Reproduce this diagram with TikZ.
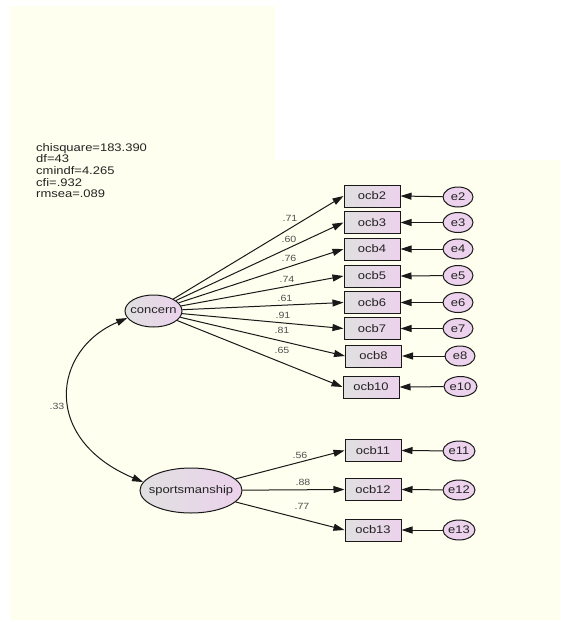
\documentclass[tikz,border=0pt]{standalone}
\usepackage{fontspec}
\setmainfont[FakeStretch=1.18]{Liberation Sans}
\usetikzlibrary{arrows.meta,shapes.geometric}
\definecolor{bgy}{RGB}{255,255,239}
\definecolor{linec}{RGB}{25,25,25}
\definecolor{lgray}{RGB}{224,224,224}
\definecolor{lpink}{RGB}{236,210,236}
\definecolor{labc}{RGB}{80,80,80}
\definecolor{txtc}{RGB}{35,35,35}
\tikzset{
  obs/.style={draw=linec, line width=1pt, rectangle, minimum width=56pt, minimum height=22pt, inner sep=0pt, left color=lgray, right color=lpink, font=\fontsize{11}{12}\selectfont, text=txtc},
  lat/.style={draw=linec, line width=1pt, ellipse, inner sep=0pt, left color=lgray, right color=lpink, font=\fontsize{11}{12}\selectfont, text=txtc},
  err/.style={draw=linec, line width=1pt, ellipse, minimum width=30pt, minimum height=20pt, inner sep=0pt, fill=lpink, font=\fontsize{11}{12}\selectfont, text=txtc},
  pth/.style={draw=linec, line width=1pt, -{Triangle[length=11pt,width=7pt]}},
  cov/.style={draw=linec, line width=1pt, {Triangle[length=11pt,width=7pt]}-{Triangle[length=11pt,width=7pt]}},
  coef/.style={font=\fontsize{9}{10}\selectfont, text=labc, inner sep=0pt},
  stats/.style={font=\fontsize{11}{11.7}\selectfont, text=txtc, align=left, inner sep=0pt, anchor=north west},
}
\begin{document}
\begin{tikzpicture}[x=1pt,y=-1pt]
\useasboundingbox (0,0) rectangle (561,622);
\fill[white] (0,0) rectangle (561,622);
\fill[bgy] (10,6) -- (275,6) -- (275,160) -- (560,160) -- (560,620) -- (10,620) -- cycle;

\node[stats] (fit) at (36,143) {chisquare=183.390\\df=43\\cmindf=4.265\\cfi=.932\\rmsea=.089};

\node[lat, minimum width=57pt, minimum height=32pt] (concern) at (153.5,311) {\makebox[0pt][c]{concern}};
\node[lat, minimum width=102pt, minimum height=45pt] (sports) at (191,490.5) {\makebox[0pt][c]{sportsmanship}};

\node[obs] (ocb2) at (372,196) {ocb2};
\node[obs] (ocb3) at (372,222.5) {ocb3};
\node[obs] (ocb4) at (372,249) {ocb4};
\node[obs] (ocb5) at (372,276) {ocb5};
\node[obs] (ocb6) at (372,302.5) {ocb6};
\node[obs] (ocb7) at (372,328.5) {ocb7};
\node[obs] (ocb8) at (373.5,356) {ocb8};
\node[obs] (ocb10) at (371,387) {ocb10};
\node[obs] (ocb11) at (373,450.5) {ocb11};
\node[obs] (ocb12) at (373,489.5) {ocb12};
\node[obs] (ocb13) at (373,530) {ocb13};

\node[err] (e2) at (458,197) {e2};
\node[err] (e3) at (458,222.5) {e3};
\node[err] (e4) at (458,249) {e4};
\node[err] (e5) at (458,275.5) {e5};
\node[err] (e6) at (458,302.5) {e6};
\node[err] (e7) at (458,328.5) {e7};
\node[err] (e8) at (460,356) {e8};
\node[err, minimum width=33pt] (e10) at (460.5,386.5) {\makebox[0pt][c]{e10}};
\node[err, minimum width=32pt] (e11) at (459,451) {\makebox[0pt][c]{e11}};
\node[err, minimum width=32pt] (e12) at (459,490) {\makebox[0pt][c]{e12}};
\node[err, minimum width=32pt] (e13) at (459,530) {\makebox[0pt][c]{e13}};

\foreach \o in {2,3,4,5,6,7,8,10} {\draw[pth] (concern) -- (ocb\o.west);}
\foreach \o in {11,12,13} {\draw[pth] (sports) -- (ocb\o.west);}
\foreach \o in {2,3,4,5,6,7,8,10,11,12,13} {\draw[pth] (e\o) -- (ocb\o.east);}

\draw[cov] (concern.195) .. controls +(-75,32) and +(-102,-43) .. (sports.170);

\node[coef] (c2) at (290,218) {.71};
\node[coef] (c3) at (289,239) {.60};
\node[coef] (c4) at (289,258) {.76};
\node[coef] (c5) at (287,279) {.74};
\node[coef] (c6) at (285,298) {.61};
\node[coef] (c7) at (283,315) {.91};
\node[coef] (c8) at (282,330) {.81};
\node[coef] (c10) at (282,350) {.65};
\node[coef] (c11) at (300,455) {.56};
\node[coef] (c12) at (303,482) {.88};
\node[coef] (c13) at (302,506) {.77};
\node[coef] (c33) at (57,406) {.33};
\end{tikzpicture}
\end{document}
